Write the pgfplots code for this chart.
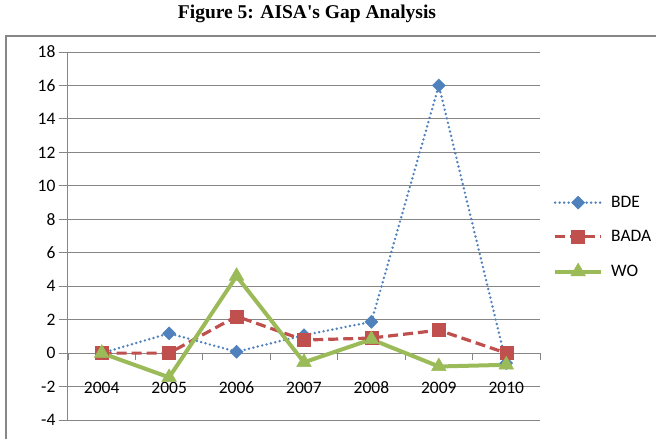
\documentclass[border=0pt]{standalone}
\usepackage{pgfplots}
\pgfplotsset{compat=1.18}
\usepackage{fontspec}
\setmainfont{Carlito}
\newfontfamily\titlefont{Liberation Serif}
\definecolor{bde}{HTML}{4F81BD}
\definecolor{bada}{HTML}{C0504D}
\definecolor{wo}{HTML}{9BBB59}
\definecolor{gridc}{HTML}{868686}
\begin{document}
\begin{tikzpicture}[x=1pt,y=1pt]
\useasboundingbox (0,0) rectangle (656,-439);
\clip (0,0) rectangle (656,-439);
\draw[color=gridc, line width=2pt] (6,-36) rectangle (700,-500);
\node[font=\titlefont\bfseries\fontsize{19.5}{22}\selectfont] at (307,-14) {Figure 5: AISA's Gap Analysis};
\begin{axis}[
  at={(101.7pt,-353.1pt)}, anchor=origin,
  scale only axis, width=472pt, height=368pt,
  xmin=-0.5, xmax=6.5, ymin=-4, ymax=18,
  axis y line=left, axis x line=middle,
  hide obscured x ticks=false, hide obscured y ticks=false,
  axis line style={draw=gridc, line width=1pt, -},
  ytick={-4,-2,...,18},
  xtick={0,1,2,3,4,5,6}, xticklabels={2004,2005,2006,2007,2008,2009,2010},
  minor xtick={-0.5,0.5,1.5,2.5,3.5,4.5,5.5,6.5},
  tick align=outside, major tick length=9pt, minor tick length=7pt,
  every major x tick/.append style={draw=none},
  tick style={draw=gridc, line width=0.9pt},
  ymajorgrids, major grid style={draw=gridc, line width=0.9pt},
  ticklabel style={font=\fontsize{17.5}{20}\selectfont, text=black},
  /pgf/number format/assume math mode=true,
  xticklabel style={anchor=north, yshift=-16pt, text height=12pt, text depth=0pt},
  legend style={at={(1.0275,0.497)}, anchor=west, draw=none, fill=none,
    font=\fontsize{17.5}{20}\selectfont, inner sep=0pt, row sep=19pt,
    nodes={inner sep=0pt, text height=12pt, text depth=3pt}},
  legend cell align=left,
  /tikz/every odd column/.append style={column sep=8pt},
  legend image code/.code={\draw[mark repeat=2,mark phase=2,#1] plot coordinates {(0pt,0pt) (23pt,0pt) (46pt,0pt)};},
  clip=false,
]
\addplot[color=bde, line width=2.7pt, line cap=round, dash pattern=on 0pt off 4.5pt,
  mark=diamond*, mark size=6.5pt, mark options={solid, xscale=1.33, fill=bde, draw=bde, line width=0.5pt}]
  coordinates {(0,0) (1,1.18) (2,0.08) (3,1.07) (4,1.87) (5,16.0) (6,-0.6)};
\addlegendentry{BDE}
\addplot[color=bada, line width=3.2pt, dash pattern=on 10pt off 5pt,
  mark=square*, mark size=6.5pt, mark options={solid, fill=bada, draw=bada, line width=0.5pt}]
  coordinates {(0,0) (1,0) (2,2.2) (3,0.78) (4,0.9) (5,1.37) (6,0)};
\addlegendentry{BADA}
\addplot[color=wo, line width=4pt, line join=round,
  mark=triangle*, mark size=8.5pt, mark options={solid, fill=wo, draw=wo, line width=0.5pt}]
  coordinates {(0,0) (1,-1.45) (2,4.6) (3,-0.55) (4,0.82) (5,-0.8) (6,-0.7)};
\addlegendentry{WO}
\end{axis}
\end{tikzpicture}
\end{document}
